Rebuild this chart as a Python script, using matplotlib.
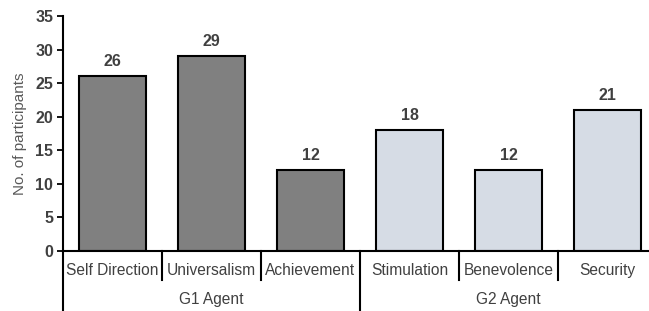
import matplotlib
matplotlib.use("Agg")
import matplotlib.pyplot as plt
import matplotlib.transforms as mtransforms

categories = ["Self Direction", "Universalism", "Achievement",
              "Stimulation", "Benevolence", "Security"]
values = [26, 29, 12, 18, 12, 21]
groups = ["G1 Agent", "G2 Agent"]
group_sizes = [3, 3]
colors = ["#808080"] * 3 + ["#D6DCE5"] * 3

plt.rcParams["font.family"] = ["Liberation Sans", "DejaVu Sans"]
W, H = 649, 311
fig = plt.figure(figsize=(W / 100, H / 100), dpi=100)
ax = fig.add_axes([63 / W, 60 / H, (657 - 63) / W, 235 / H])

x = list(range(len(categories)))
ax.bar(x, values, width=0.68, color=colors, edgecolor="black", linewidth=1.5, zorder=2)
for xi, v in zip(x, values):
    ax.annotate(str(v), (xi, v), xytext=(0, 5), textcoords="offset points",
                ha="center", va="bottom", fontsize=11.5, fontweight="bold", color="#404040")

ax.set_xlim(-0.5, len(categories) - 0.5)
ax.set_ylim(0, 35)
ax.set_yticks(range(0, 36, 5))
ax.tick_params(axis="y", direction="out", length=4, width=1.3, labelsize=11.5,
               labelcolor="#404040", pad=3)
for lab in ax.get_yticklabels():
    lab.set_fontweight("bold")
ax.set_xticks([])
ax.set_ylabel("No. of participants", fontsize=11, color="#595959", labelpad=6)

for s in ["top", "right"]:
    ax.spines[s].set_visible(False)
ax.spines["left"].set_linewidth(1.5)
ax.spines["bottom"].set_linewidth(1.5)

trans = mtransforms.blended_transform_factory(ax.transData, ax.transAxes)
# category labels
for xi, c in zip(x, categories):
    ax.text(xi, -0.085, c, transform=trans, ha="center", va="center",
            fontsize=11.2, color="#404040")
# separators
group_edges = []
pos = -0.5
for n in group_sizes:
    group_edges.append((pos, pos + n))
    pos += n
boundaries = [i - 0.5 for i in range(len(categories) + 1)]
major = {e for g in group_edges for e in g}
for b in boundaries:
    if b in major:
        ax.plot([b, b], [0, -0.27], transform=trans, color="black", lw=1.5, clip_on=False)
    else:
        ax.plot([b, b], [0, -0.125], transform=trans, color="black", lw=1.5, clip_on=False)
# group labels
for (a, b), g in zip(group_edges, groups):
    ax.text((a + b) / 2, -0.205, g, transform=trans, ha="center", va="center",
            fontsize=11.2, color="#404040")

fig.savefig("out.png", dpi=100)
